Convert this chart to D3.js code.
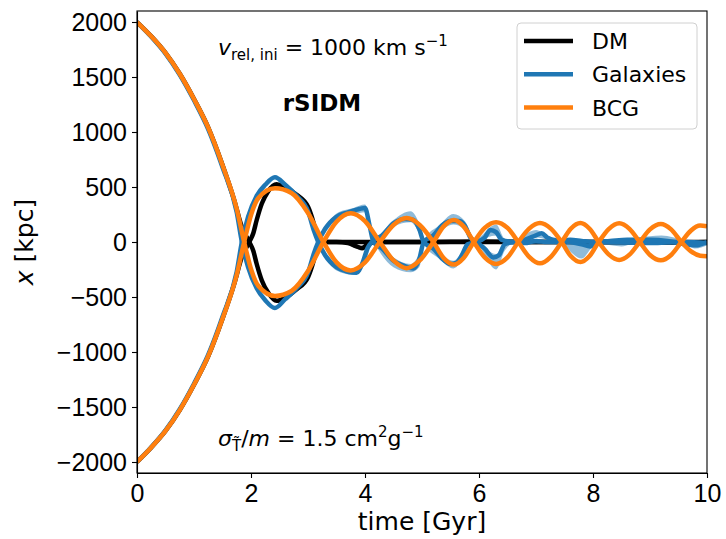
<!DOCTYPE html>
<html>
<head>
<meta charset="utf-8">
<script src="https://cdn.jsdelivr.net/npm/d3@7"></script>
<style>
    body { margin: 0; background: #fff; }
    svg { font-family: 'DejaVu Sans', sans-serif; }
    .axis text { font-size: 25px; fill: #000; }
    .axis path, .axis line { stroke: #000; stroke-width: 1.1px; }
</style>
</head>
<body>
<div id="chart-area"></div>
<script>
// tick values
const xTicks = [0, 2, 4, 6, 8, 10];
const yTicks = [-2000, -1500, -1000, -500, 0, 500, 1000, 1500, 2000];

// BCG positions (kpc), shared time grid (Gyr)
const bcgT = [0, 0.25, 0.5, 0.75, 1.0, 1.25, 1.5, 1.75, 1.88, 2.01, 2.13, 2.42, 2.71, 3.0, 3.27,
    3.5, 3.75, 4.0, 4.26, 4.5, 4.73, 4.96, 5.2, 5.38, 5.56, 5.73, 5.91, 6.1, 6.3, 6.5, 6.69,
    6.88, 7.07, 7.26, 7.45, 7.61, 7.78, 7.94, 8.1, 8.28, 8.46, 8.64, 8.82, 9.0, 9.19, 9.37, 9.55,
    9.72, 9.88, 10.0];
const bcg1X = [2000, 1870, 1720, 1530, 1300, 1040, 700, 300, 0, -262, -400, -490, -445, -264, 0,
    185, 262, 190, 0, -168, -238, -168, 0, 142, 200, 142, 0, -140, -200, -140, 0,
    122, 172, 122, 0, -128, -182, -128, 0, 120, 170, 120, 0, -118, -166, -118, 0,
    105, 150, 142];
const bcg2X = [-2000, -1868, -1718, -1528, -1298, -1038, -698, -298, 0, 262, 400, 488, 445, 264, 0,
    -185, -258, -185, 0, 155, 218, 155, 0, -145, -205, -145, 0, 128, 180, 128, 0,
    -135, -194, -135, 0, 120, 172, 120, 0, -115, -164, -115, 0, 115, 164, 115, 0,
    -85, -125, -130];

// DM halo centres
const dm1T = [0, 0.25, 0.5, 0.75, 1.0, 1.25, 1.5, 1.7, 1.85, 1.97, 2.04, 2.1, 2.19, 2.3, 2.45, 2.6,
    2.8, 3.0, 3.1, 3.16, 3.22, 3.4, 4.0, 5.0, 6.0, 7.0, 8.0, 9.0, 10.0];
const dm1X = [2000, 1870, 1720, 1530, 1300, 1040, 700, 390, 120, 0, -80, -200, -350, -460, -535, -505,
    -430, -320, -170, -50, 0, 0, 0, 0, 5, 0, 0, -5, 0];
const dm2T = [0, 0.25, 0.5, 0.75, 1.0, 1.25, 1.5, 1.7, 1.85, 1.97, 2.04, 2.1, 2.19, 2.3, 2.45, 2.6,
    2.8, 3.0, 3.1, 3.16, 3.22, 3.5, 3.7, 3.85, 3.95, 4.05, 4.2, 5.0, 6.0, 7.0, 8.0, 9.0, 10.0];
const dm2X = [-2000, -1868, -1718, -1528, -1298, -1038, -698, -390, -120, 0, 80, 200, 350, 460, 525, 495,
    430, 320, 170, 50, 0, 0, -10, -40, -55, -20, 0, 0, 0, 0, 0, 0, 0];
const dmBandT = [3.5, 3.7, 3.85, 3.95, 4.05, 4.2];
const dmBandLo = [-5, -25, -60, -80, -40, -5];
const dmBandHi = [5, 5, -20, -35, 0, 5];

// galaxy centroids
const gal1T = [0, 0.25, 0.5, 0.75, 1.0, 1.25, 1.5, 1.75, 1.84, 1.95, 2.1, 2.25, 2.42, 2.6, 2.8, 3.0,
    3.1, 3.18, 3.3, 3.5, 3.7, 3.9, 4.0, 4.08, 4.15, 4.3, 4.5, 4.7, 4.85, 4.95, 5.03, 5.2, 5.35,
    5.5, 5.65, 5.75, 5.85, 5.95, 6.1, 6.25, 6.35, 6.45, 6.6, 6.8, 7.0, 7.1, 7.2, 7.4, 7.6, 7.8,
    7.95, 8.05, 8.3, 8.6, 9.0, 9.3, 9.6, 10.0];
const gal1X = [2000, 1866, 1713, 1520, 1288, 1025, 680, 270, 0, -230, -420, -530, -600, -520, -420, -280,
    -110, 0, 120, 230, 270, 300, 310, 150, 0, -60, -170, -220, -240, -160, 0, 60, 150,
    190, 190, 150, 40, 0, -60, -140, -120, -20, 0, 20, 60, 80, 40, 10, 0, -20,
    -40, -10, 0, -5, -10, -5, 0, -10];
const gal2T = [0, 0.25, 0.5, 0.75, 1.0, 1.25, 1.5, 1.75, 1.84, 1.95, 2.1, 2.25, 2.42, 2.6, 2.8, 3.0,
    3.1, 3.18, 3.3, 3.5, 3.7, 3.85, 3.95, 4.05, 4.12, 4.3, 4.5, 4.7, 4.85, 4.95, 5.03, 5.2, 5.35,
    5.5, 5.6, 5.7, 5.8, 5.95, 6.1, 6.2, 6.3, 6.4, 6.6, 6.8, 7.0, 7.2, 7.4, 7.6, 7.8, 8.0,
    8.3, 8.6, 9.0, 9.3, 9.6, 9.8, 10.0];
const gal2X = [-2000, -1866, -1713, -1520, -1288, -1025, -680, -270, 0, 230, 420, 520, 588, 520, 420, 280,
    110, 0, -120, -230, -270, -280, -200, -50, 0, 60, 170, 210, 200, 120, 0, -60, -150,
    -200, -190, -120, -20, 0, 40, 110, 90, 20, 0, -10, 10, 0, 0, 20, 10, 0,
    10, 20, 20, 10, -20, -30, 0];

// galaxy spread
const galBand1T = [3.2, 3.5, 3.8, 4.0, 4.1, 4.2, 4.5, 4.8, 4.95, 5.05, 5.3, 5.55, 5.75, 5.9, 6.0, 6.3,
    6.45, 6.6, 7.0, 7.2, 7.4, 7.8, 8.0, 8.2];
const galBand1Lo = [0, 200, 250, 270, 60, -40, -230, -275, -230, -20, 90, 160, 110, 0, -40, -250,
    -80, -10, 40, 20, 0, -150, -40, -5];
const galBand1Hi = [40, 260, 310, 340, 160, 0, -140, -200, -110, 30, 150, 255, 190, 40, 0, -110,
    0, 10, 110, 60, 20, -10, 0, 5];
const galBand2T = [3.2, 3.5, 3.8, 4.0, 4.1, 4.2, 4.5, 4.8, 4.95, 5.05, 5.3, 5.55, 5.75, 5.9, 6.0, 6.3,
    6.45, 6.6, 7.0, 7.2, 7.4, 7.8, 8.0, 8.5, 8.8, 9.2, 9.6, 9.8, 10.0];
const galBand2Lo = [-50, -260, -300, -200, -40, 10, 140, 180, 80, -30, -150, -240, -130, -20, 10, 60,
    0, -10, -20, -10, -5, 0, -5, -40, 0, 0, -20, -60, -30];
const galBand2Hi = [-10, -200, -250, -110, 10, 40, 200, 280, 170, 10, -100, -170, -60, 5, 40, 160,
    30, 10, 20, 10, 10, 20, 5, 10, 40, 60, 20, 0, 10];

const legendLabels = ['DM', 'Galaxies', 'BCG'];

const COLORS = {dm: '#000000', gal: '#1f77b4', bcg: '#ff7f0e'};
const WIDTH = 726;
const HEIGHT = 539;
const MARGIN = {top: 11, right: 19, bottom: 66, left: 137};
const LINE_W = 4.5;

const svg = d3.select('#chart-area').append('svg')
    .attr('width', WIDTH)
    .attr('height', HEIGHT);

const innerW = WIDTH - MARGIN.left - MARGIN.right;
const innerH = HEIGHT - MARGIN.top - MARGIN.bottom;

const xScale = d3.scaleLinear().domain([0, 10]).range([0, innerW]);
const yScale = d3.scaleLinear().domain([-2100, 2100]).range([innerH, 0]);

svg.append('defs').append('clipPath')
    .attr('id', 'plot-clip')
    .append('rect')
    .attr('width', innerW)
    .attr('height', innerH);

const graph = svg.append('g')
    .attr('transform', `translate(${MARGIN.left}, ${MARGIN.top})`);

const plot = graph.append('g').attr('clip-path', 'url(#plot-clip)');

const line = d3.line()
    .x(d => xScale(d[0]))
    .y(d => yScale(d[1]))
    .curve(d3.curveMonotoneX);

const area = d3.area()
    .x(d => xScale(d[0]))
    .y0(d => yScale(d[1]))
    .y1(d => yScale(d[2]))
    .curve(d3.curveMonotoneX);

function drawBand(t, lo, hi, color, opacity) {
    plot.append('path')
        .datum(d3.zip(t, lo, hi))
        .attr('d', area)
        .attr('fill', color)
        .attr('fill-opacity', opacity);
}

function drawLine(t, v, color) {
    plot.append('path')
        .datum(d3.zip(t, v))
        .attr('d', line)
        .attr('fill', 'none')
        .attr('stroke', color)
        .attr('stroke-width', LINE_W)
        .attr('stroke-linejoin', 'round');
}

// DM
drawBand(dmBandT, dmBandLo, dmBandHi, COLORS.dm, 0.4);
drawLine(dm1T, dm1X, COLORS.dm);
drawLine(dm2T, dm2X, COLORS.dm);

// Galaxies
drawBand(galBand1T, galBand1Lo, galBand1Hi, COLORS.gal, 0.5);
drawBand(galBand2T, galBand2Lo, galBand2Hi, COLORS.gal, 0.5);
drawLine(gal1T, gal1X, COLORS.gal);
drawLine(gal2T, gal2X, COLORS.gal);

// BCG
drawLine(bcgT, bcg1X, COLORS.bcg);
drawLine(bcgT, bcg2X, COLORS.bcg);

// axes
const minus = d => (d < 0 ? '\u2212' + Math.abs(d) : String(d));

graph.append('g')
    .attr('class', 'axis')
    .attr('transform', `translate(0, ${innerH})`)
    .call(d3.axisBottom(xScale).tickValues(xTicks).tickSize(5).tickPadding(6).tickSizeOuter(0));

graph.append('g')
    .attr('class', 'axis')
    .call(d3.axisLeft(yScale).tickValues(yTicks).tickSize(5).tickPadding(5).tickSizeOuter(0).tickFormat(minus));

graph.append('rect')
    .attr('width', innerW)
    .attr('height', innerH)
    .attr('fill', 'none')
    .attr('stroke', '#000')
    .attr('stroke-width', 1.1);

// axis labels
svg.append('text')
    .attr('x', MARGIN.left + innerW / 2)
    .attr('y', 530)
    .attr('text-anchor', 'middle')
    .attr('font-size', 25)
    .text('time [Gyr]');

const yLab = svg.append('text')
    .attr('transform', `translate(33, ${MARGIN.top + innerH / 2}) rotate(-90)`)
    .attr('text-anchor', 'middle')
    .attr('font-size', 25);
yLab.append('tspan').attr('font-style', 'italic').text('x');
yLab.append('tspan').text(' [kpc]');

// annotations
const vText = svg.append('text')
    .attr('x', 218)
    .attr('y', 55)
    .attr('font-size', 22);
vText.append('tspan').attr('font-style', 'italic').text('v');
vText.append('tspan').attr('font-size', 15).attr('dy', 5).text('rel, ini');
vText.append('tspan').attr('dy', -5).text(' = 1000 km s');
vText.append('tspan').attr('font-size', 15).attr('dy', -9).text('\u22121');

svg.append('text')
    .attr('x', 322)
    .attr('y', 111)
    .attr('text-anchor', 'middle')
    .attr('font-size', 23)
    .attr('font-weight', 'bold')
    .text('rSIDM');

const sText = svg.append('text')
    .attr('x', 218)
    .attr('y', 446)
    .attr('font-size', 22);
sText.append('tspan').attr('font-style', 'italic').text('\u03c3');
sText.append('tspan').attr('font-size', 15).attr('dy', 5).text('T\u0303');
sText.append('tspan').attr('dy', -5).text('/');
sText.append('tspan').attr('font-style', 'italic').text('m');
sText.append('tspan').text(' = 1.5 cm');
sText.append('tspan').attr('font-size', 15).attr('dy', -9).text('2');
sText.append('tspan').attr('dy', 9).text('g');
sText.append('tspan').attr('font-size', 15).attr('dy', -9).text('\u22121');

// legend
const legend = svg.append('g')
    .attr('class', 'legend')
    .attr('transform', 'translate(517, 23)');

legend.append('rect')
    .attr('width', 180)
    .attr('height', 106)
    .attr('rx', 4)
    .attr('fill', '#fff')
    .attr('fill-opacity', 0.8)
    .attr('stroke', '#d0d0d0')
    .attr('stroke-width', 1);

const legendColors = [COLORS.dm, COLORS.gal, COLORS.bcg];
legendLabels.forEach((label, i) => {
    const row = legend.append('g')
        .attr('transform', `translate(0, ${18 + i * 33.3})`);
    row.append('line')
        .attr('x1', 7)
        .attr('x2', 56)
        .attr('stroke', legendColors[i])
        .attr('stroke-width', 4.5);
    row.append('text')
        .attr('x', 75)
        .attr('y', 8)
        .attr('font-size', 22)
        .text(label);
});
</script>
</body>
</html>
